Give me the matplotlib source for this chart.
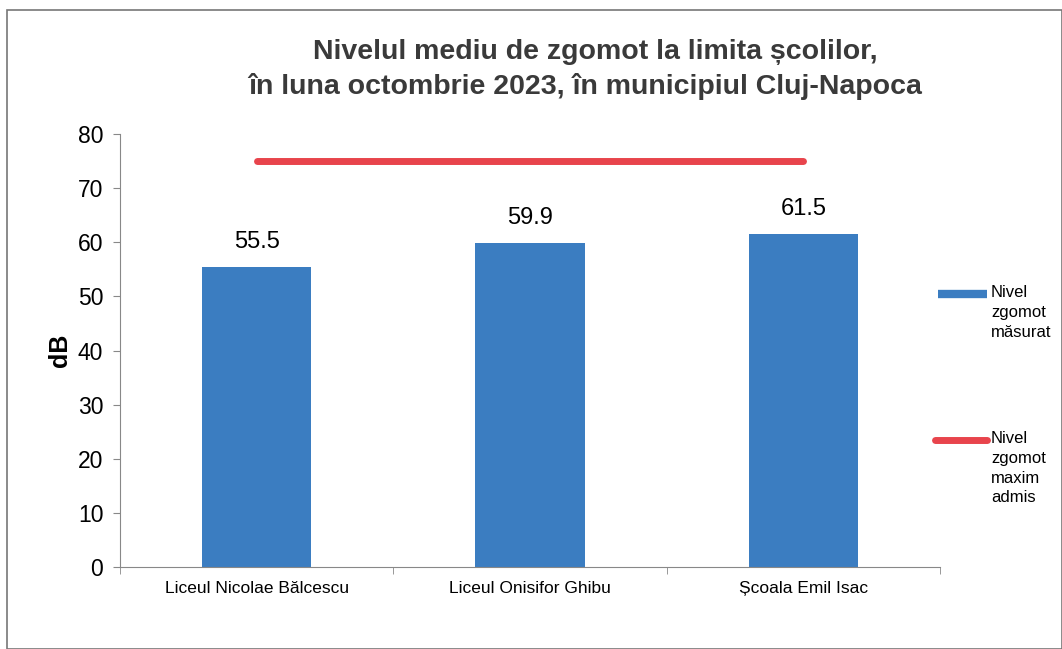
import matplotlib
matplotlib.use("Agg")
import matplotlib.pyplot as plt
from matplotlib.lines import Line2D
from matplotlib.patches import Rectangle

plt.rcParams['font.family'] = ['Liberation Sans', 'DejaVu Sans']

schools = ['Liceul Nicolae Bălcescu', 'Liceul Onisifor Ghibu', 'Școala Emil Isac']
measured = [55.5, 59.9, 61.5]
max_admis = [75, 75, 75]
yticks = [0, 10, 20, 30, 40, 50, 60, 70, 80]
title_lines = ['Nivelul mediu de zgomot la limita școlilor,',
               'în luna octombrie 2023, în municipiul Cluj-Napoca']
legend_labels = ['Nivel\nzgomot\nmăsurat', 'Nivel\nzgomot\nmaxim\nadmis']

bar_col = '#3b7dc1'
red_col = '#e8444c'
W, H = 1062, 649

fig = plt.figure(figsize=(W / 100, H / 100), dpi=100)
ax = fig.add_axes([120 / W, 82 / H, 820 / W, 433 / H])

x = list(range(len(schools)))
ax.bar(x, measured, width=0.40, color=bar_col, zorder=2)
ax.plot(x, max_admis, color=red_col, lw=5, solid_capstyle='round', zorder=3)

for xi, v in zip(x, measured):
    ax.annotate(f'{v:.1f}', (xi, v), xytext=(0, 10), textcoords='offset points',
                ha='center', va='bottom', fontsize=17)

ax.set_xlim(-0.5, 2.5)
ax.set_ylim(0, 80)
ax.set_yticks(yticks)
ax.tick_params(axis='y', labelsize=16.5, length=5, color='#888888', pad=7)
ax.set_xticks([-0.5, 0.5, 1.5, 2.5], minor=True)
ax.set_xticks(x)
ax.set_xticklabels(schools, fontsize=12.5)
ax.tick_params(axis='x', which='major', length=0, pad=10)
ax.tick_params(axis='x', which='minor', length=5, color='#888888')
for s in ['top', 'right']:
    ax.spines[s].set_visible(False)
for s in ['left', 'bottom']:
    ax.spines[s].set_color('#888888')
ax.set_ylabel('dB', fontsize=18, fontweight='bold', labelpad=4)

fig.text(595 / W, 1 - 52 / H, title_lines[0], ha='center', va='center',
         fontsize=20.5, fontweight='bold', color='#3a3a3a')
fig.text(585 / W, 1 - 87 / H, title_lines[1], ha='center', va='center',
         fontsize=20.5, fontweight='bold', color='#3a3a3a')

# legend drawn by hand, text top-aligned with the handle
leg = [(bar_col, 6, 938, 294), (red_col, 5, 935, 440)]
for (col, lw, x0, yy), lab in zip(leg, legend_labels):
    fig.add_artist(Line2D([x0 / W, 987 / W], [1 - yy / H, 1 - yy / H], color=col, lw=lw,
                          solid_capstyle='round' if col == red_col else 'butt'))
    fig.text(991 / W, 1 - (yy - 9) / H, lab, ha='left', va='top', fontsize=12,
             linespacing=1.4)

fig.patches.append(Rectangle((7 / W, 0.0), 1 - 7 / W, 1 - 10 / H, transform=fig.transFigure,
                             fill=False, edgecolor='#777777', lw=1.2))

fig.savefig('out.png', dpi=100)
